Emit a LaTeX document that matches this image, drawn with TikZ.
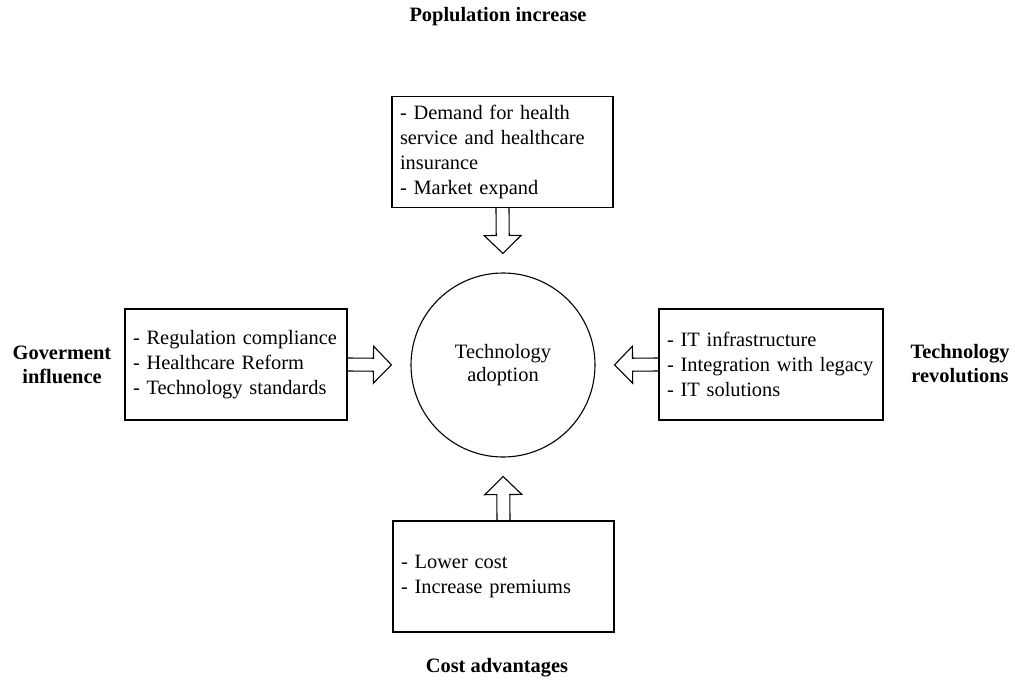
\documentclass[tikz,border=0pt]{standalone}
\usepackage{fontspec}
\setmainfont{Liberation Serif}
\usetikzlibrary{calc}

% hollow block arrow from one anchor towards another, stopping short of it
\newcommand\blockarrow[2]{%
  \path let \p1=(#1), \p2=(#2) in
    \pgfextra{%
      \pgfmathsetmacro\arrang{atan2(\y2-\y1,\x2-\x1)}%
      \pgfmathsetmacro\arrlen{veclen(\x2-\x1,\y2-\y1)-19}%
      \global\let\arrang\arrang
      \global\let\arrlen\arrlen};
  \draw[blockline, shift={(#1)}, rotate=\arrang]
    (0,-6.5) -- (\arrlen-18,-6.5) -- (\arrlen-18,-18.5) -- (\arrlen,0)
    -- (\arrlen-18,18.5) -- (\arrlen-18,6.5) -- (0,6.5);
}

\begin{document}
\begin{tikzpicture}[x=1pt,y=-1pt,
  every node/.style={font=\fontsize{20.4}{24.7}\selectfont},
  factorbox/.style={draw, line width=1.1pt, rectangle, inner xsep=8pt, inner ysep=0pt,
    align=left, minimum height=111pt},
  hub/.style={draw, line width=1.1pt, circle, minimum size=184pt, align=center},
  heading/.style={font=\fontsize{20.4}{24}\selectfont\bfseries, align=center},
  blockline/.style={draw, line width=1.1pt, line join=miter}]

\useasboundingbox (0,0) rectangle (1015,686);

% central concept
\node[hub] (core) at (503,365) {\raisebox{-3pt}{\shortstack{Technology\\[1pt]adoption}}};

% driver boxes
\node[factorbox, text width=205pt] (pop) at (502.5,152)
  {- Demand for health\\service and healthcare\\insurance\\- Market expand};
\node[factorbox, text width=206pt] (gov) at (236,364.5)
  {- Regulation compliance\\- Healthcare Reform\\- Technology standards};
\node[factorbox, text width=208pt] (tech) at (771,364.5)
  {- IT infrastructure\\- Integration with legacy\\- IT solutions};
\node[factorbox, text width=205pt] (cost) at (503.5,576.5)
  {- Lower cost\\- Increase premiums};

% driver headings
\node[heading] (popT) at (498,17) {Poplulation increase};
\node[heading] (govT) at (62,365) {Goverment\\influence};
\node[heading] (techT) at (960,364) {Technology\\revolutions};
\node[heading] (costT) at (497,668) {Cost advantages};

% block arrows into the hub
\blockarrow{pop.south}{core.north}
\blockarrow{gov.east}{core.west}
\blockarrow{tech.west}{core.east}
\blockarrow{cost.north}{core.south}

\end{tikzpicture}
\end{document}
